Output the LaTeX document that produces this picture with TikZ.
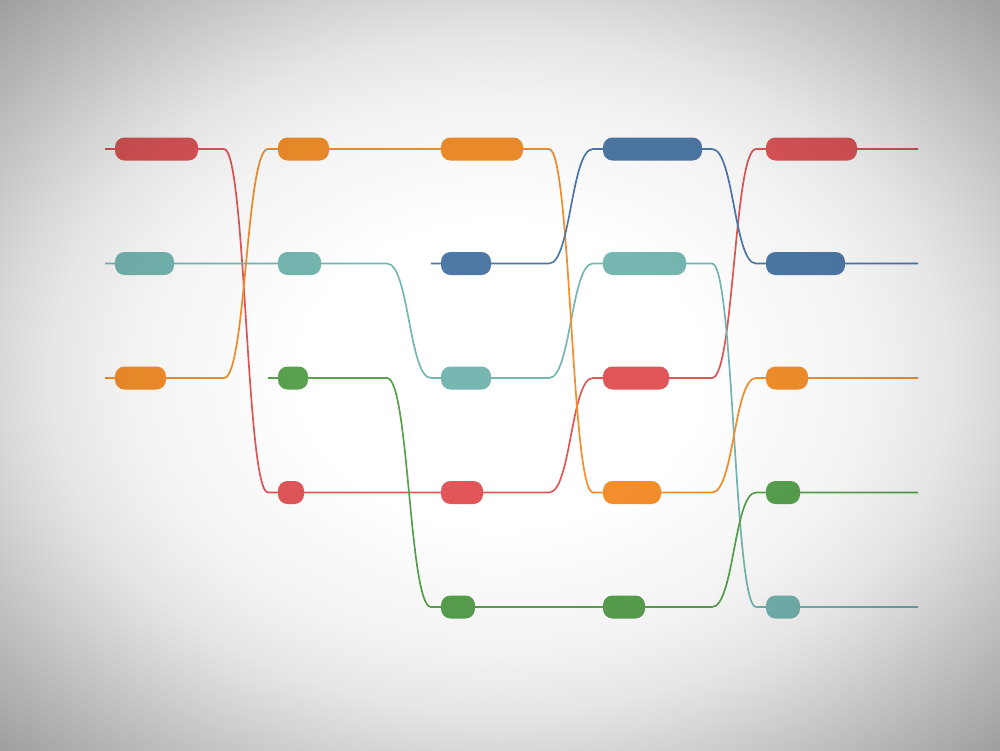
\documentclass[tikz,border=0pt]{standalone}
\usetikzlibrary{calc}
\pgfdeclarelayer{back}
\pgfdeclarelayer{lines}
\pgfsetlayers{back,lines,main}
\definecolor{tred}{HTML}{E15759}
\definecolor{tteal}{HTML}{76B7B2}
\definecolor{torange}{HTML}{F28E2B}
\definecolor{tgreen}{HTML}{59A14F}
\definecolor{tblue}{HTML}{4E79A7}
\pgfdeclareradialshading{vig}{\pgfpoint{0bp}{0bp}}{color(0bp)=(white); color(10bp)=(white); color(18.5bp)=(black!5); color(22.5bp)=(black!10); color(25bp)=(black!15); color(30bp)=(black!26); color(35.5bp)=(black!38); color(50bp)=(black!38)}
\tikzset{
  pill/.style={rounded corners=9.5pt, minimum height=23pt, inner sep=0pt, outer sep=0pt, anchor=west},
  flow/.style={line width=1.7pt, draw=#1},
  bump/.style={to path={-- ([xshift=-54pt]\tikztotarget.west |- \tikztostart)
     .. controls ([xshift=-32pt]\tikztotarget.west |- \tikztostart) and ([xshift=-32pt]\tikztotarget.west)
     .. ([xshift=-10pt]\tikztotarget.west) -- (\tikztotarget.west)}}
}
\begin{document}
\begin{tikzpicture}[x=1pt,y=-1pt]
\useasboundingbox (0,0) rectangle (1000,750);
\begin{pgfonlayer}{back}
  \fill[white] (0,0) rectangle (1000,750);
\end{pgfonlayer}
% rows: 149, 263.5, 378, 492.5, 607
% column 1
\node[pill, fill=tred, minimum width=83pt] (a1) at (115,149) {};
\node[pill, fill=tteal, minimum width=59pt] (a2) at (115,263.5) {};
\node[pill, fill=torange, minimum width=51pt] (a3) at (115,378) {};
% column 2
\node[pill, fill=torange, minimum width=51pt] (b1) at (278,149) {};
\node[pill, fill=tteal, minimum width=43pt] (b2) at (278,263.5) {};
\node[pill, fill=tgreen, minimum width=30pt] (b3) at (278,378) {};
\node[pill, fill=tred, minimum width=26pt] (b4) at (278,492.5) {};
% column 3
\node[pill, fill=torange, minimum width=82pt] (c1) at (441,149) {};
\node[pill, fill=tblue, minimum width=50pt] (c2) at (441,263.5) {};
\node[pill, fill=tteal, minimum width=50pt] (c3) at (441,378) {};
\node[pill, fill=tred, minimum width=42pt] (c4) at (441,492.5) {};
\node[pill, fill=tgreen, minimum width=34pt] (c5) at (441,607) {};
% column 4
\node[pill, fill=tblue, minimum width=99pt] (d1) at (603,149) {};
\node[pill, fill=tteal, minimum width=83pt] (d2) at (603,263.5) {};
\node[pill, fill=tred, minimum width=66pt] (d3) at (603,378) {};
\node[pill, fill=torange, minimum width=58pt] (d4) at (603,492.5) {};
\node[pill, fill=tgreen, minimum width=42pt] (d5) at (603,607) {};
% column 5
\node[pill, fill=tred, minimum width=91pt] (e1) at (766,149) {};
\node[pill, fill=tblue, minimum width=79pt] (e2) at (766,263.5) {};
\node[pill, fill=torange, minimum width=42pt] (e3) at (766,378) {};
\node[pill, fill=tgreen, minimum width=34pt] (e4) at (766,492.5) {};
\node[pill, fill=tteal, minimum width=34pt] (e5) at (766,607) {};
% free ends
\coordinate (rs) at (105,149);
\coordinate (ts) at (105,263.5);
\coordinate (os) at (105,378);
\coordinate (gs) at (268,378);
\coordinate (bs) at (431,263.5);
\coordinate (re) at (918,149);
\coordinate (be) at (918,263.5);
\coordinate (oe) at (918,378);
\coordinate (ge) at (918,492.5);
\coordinate (te) at (918,607);
\begin{pgfonlayer}{lines}
  \draw[flow=tred] (rs) -- (a1.west) (a1.east) to[bump] (b4) (b4.east) to[bump] (c4)
     (c4.east) to[bump] (d3) (d3.east) to[bump] (e1) (e1.east) -- (re);
  \draw[flow=tteal] (ts) -- (a2.west) (a2.east) to[bump] (b2) (b2.east) to[bump] (c3)
     (c3.east) to[bump] (d2) (d2.east) to[bump] (e5) (e5.east) -- (te);
  \draw[flow=torange] (os) -- (a3.west) (a3.east) to[bump] (b1) (b1.east) to[bump] (c1)
     (c1.east) to[bump] (d4) (d4.east) to[bump] (e3) (e3.east) -- (oe);
  \draw[flow=tgreen] (gs) -- (b3.west) (b3.east) to[bump] (c5) (c5.east) to[bump] (d5)
     (d5.east) to[bump] (e4) (e4.east) -- (ge);
  \draw[flow=tblue] (bs) -- (c2.west) (c2.east) to[bump] (d1) (d1.east) to[bump] (e2)
     (e2.east) -- (be);
\end{pgfonlayer}
\begin{scope}[blend mode=multiply]
  \shade[shading=vig] (0,0) rectangle (1000,750);
\end{scope}
\end{tikzpicture}
\end{document}
